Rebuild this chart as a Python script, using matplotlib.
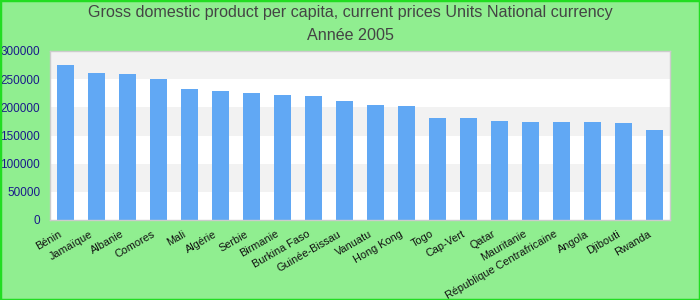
import matplotlib
matplotlib.use("Agg")
import matplotlib.pyplot as plt
from matplotlib.patches import Rectangle

# données
pays = ["Bénin", "Jamaïque", "Albanie", "Comores", "Mali", "Algérie", "Serbie",
        "Birmanie", "Burkina Faso", "Guinée-Bissau", "Vanuatu", "Hong Kong",
        "Togo", "Cap-Vert", "Qatar", "Mauritanie", "République Centrafricaine",
        "Angola", "Djibouti", "Rwanda"]
pib = [275000, 261000, 259000, 250000, 232500, 229000, 225500, 221500, 220000,
       211000, 204000, 202500, 181000, 180500, 175500, 174000, 174000, 174000,
       172500, 160000]
yticks = [0, 50000, 100000, 150000, 200000, 250000, 300000]

plt.rcParams['font.family'] = ['Liberation Sans', 'DejaVu Sans']

fig = plt.figure(figsize=(7, 3), dpi=100, facecolor='#90ee90')
# bordure verte autour de l'image
fig.patches.append(Rectangle((0, 0), 1, 1, transform=fig.transFigure,
                             fill=False, edgecolor='#22dd22', linewidth=2.5))

ax = fig.add_axes([50 / 700, 80 / 300, 620 / 700, 169 / 300])
ax.set_facecolor('white')

# bandes alternées
for i in range(len(yticks) - 1):
    if i % 2 == 1:
        ax.axhspan(yticks[i], yticks[i + 1], color='#f2f2f2', zorder=0, lw=0)

x = list(range(len(pays)))
ax.bar(x, pib, width=0.55, color='#61a8f4', zorder=2)

ax.set_xlim(-0.5, len(pays) - 0.5)
ax.set_ylim(0, 300000)
ax.set_yticks(yticks)
ax.set_yticklabels([str(v) for v in yticks], color='#1a1a8a', fontsize=8.5)
ax.tick_params(axis='y', length=0, pad=7)
ax.tick_params(axis='x', length=0, pad=2)
ax.set_xticks(x)
ax.set_xticklabels(pays, rotation=30, ha='right', rotation_mode='anchor',
                   fontsize=7.8, color='#111111')
for lbl in ax.get_xticklabels():
    lbl.set_transform(lbl.get_transform() + matplotlib.transforms.ScaledTranslation(-7 / 100, -6 / 100, fig.dpi_scale_trans))

for s in ax.spines.values():
    s.set_color('#cccccc')
    s.set_linewidth(1)

fig.text(0.5, 1 - 13 / 300, "Gross domestic product per capita, current prices Units National currency",
         ha='center', va='center', fontsize=11.6, color='#444444')
fig.text(0.5, 1 - 36 / 300, "Année 2005", ha='center', va='center',
         fontsize=11.6, color='#444444')

fig.savefig('out.png', dpi=100, facecolor=fig.get_facecolor())
